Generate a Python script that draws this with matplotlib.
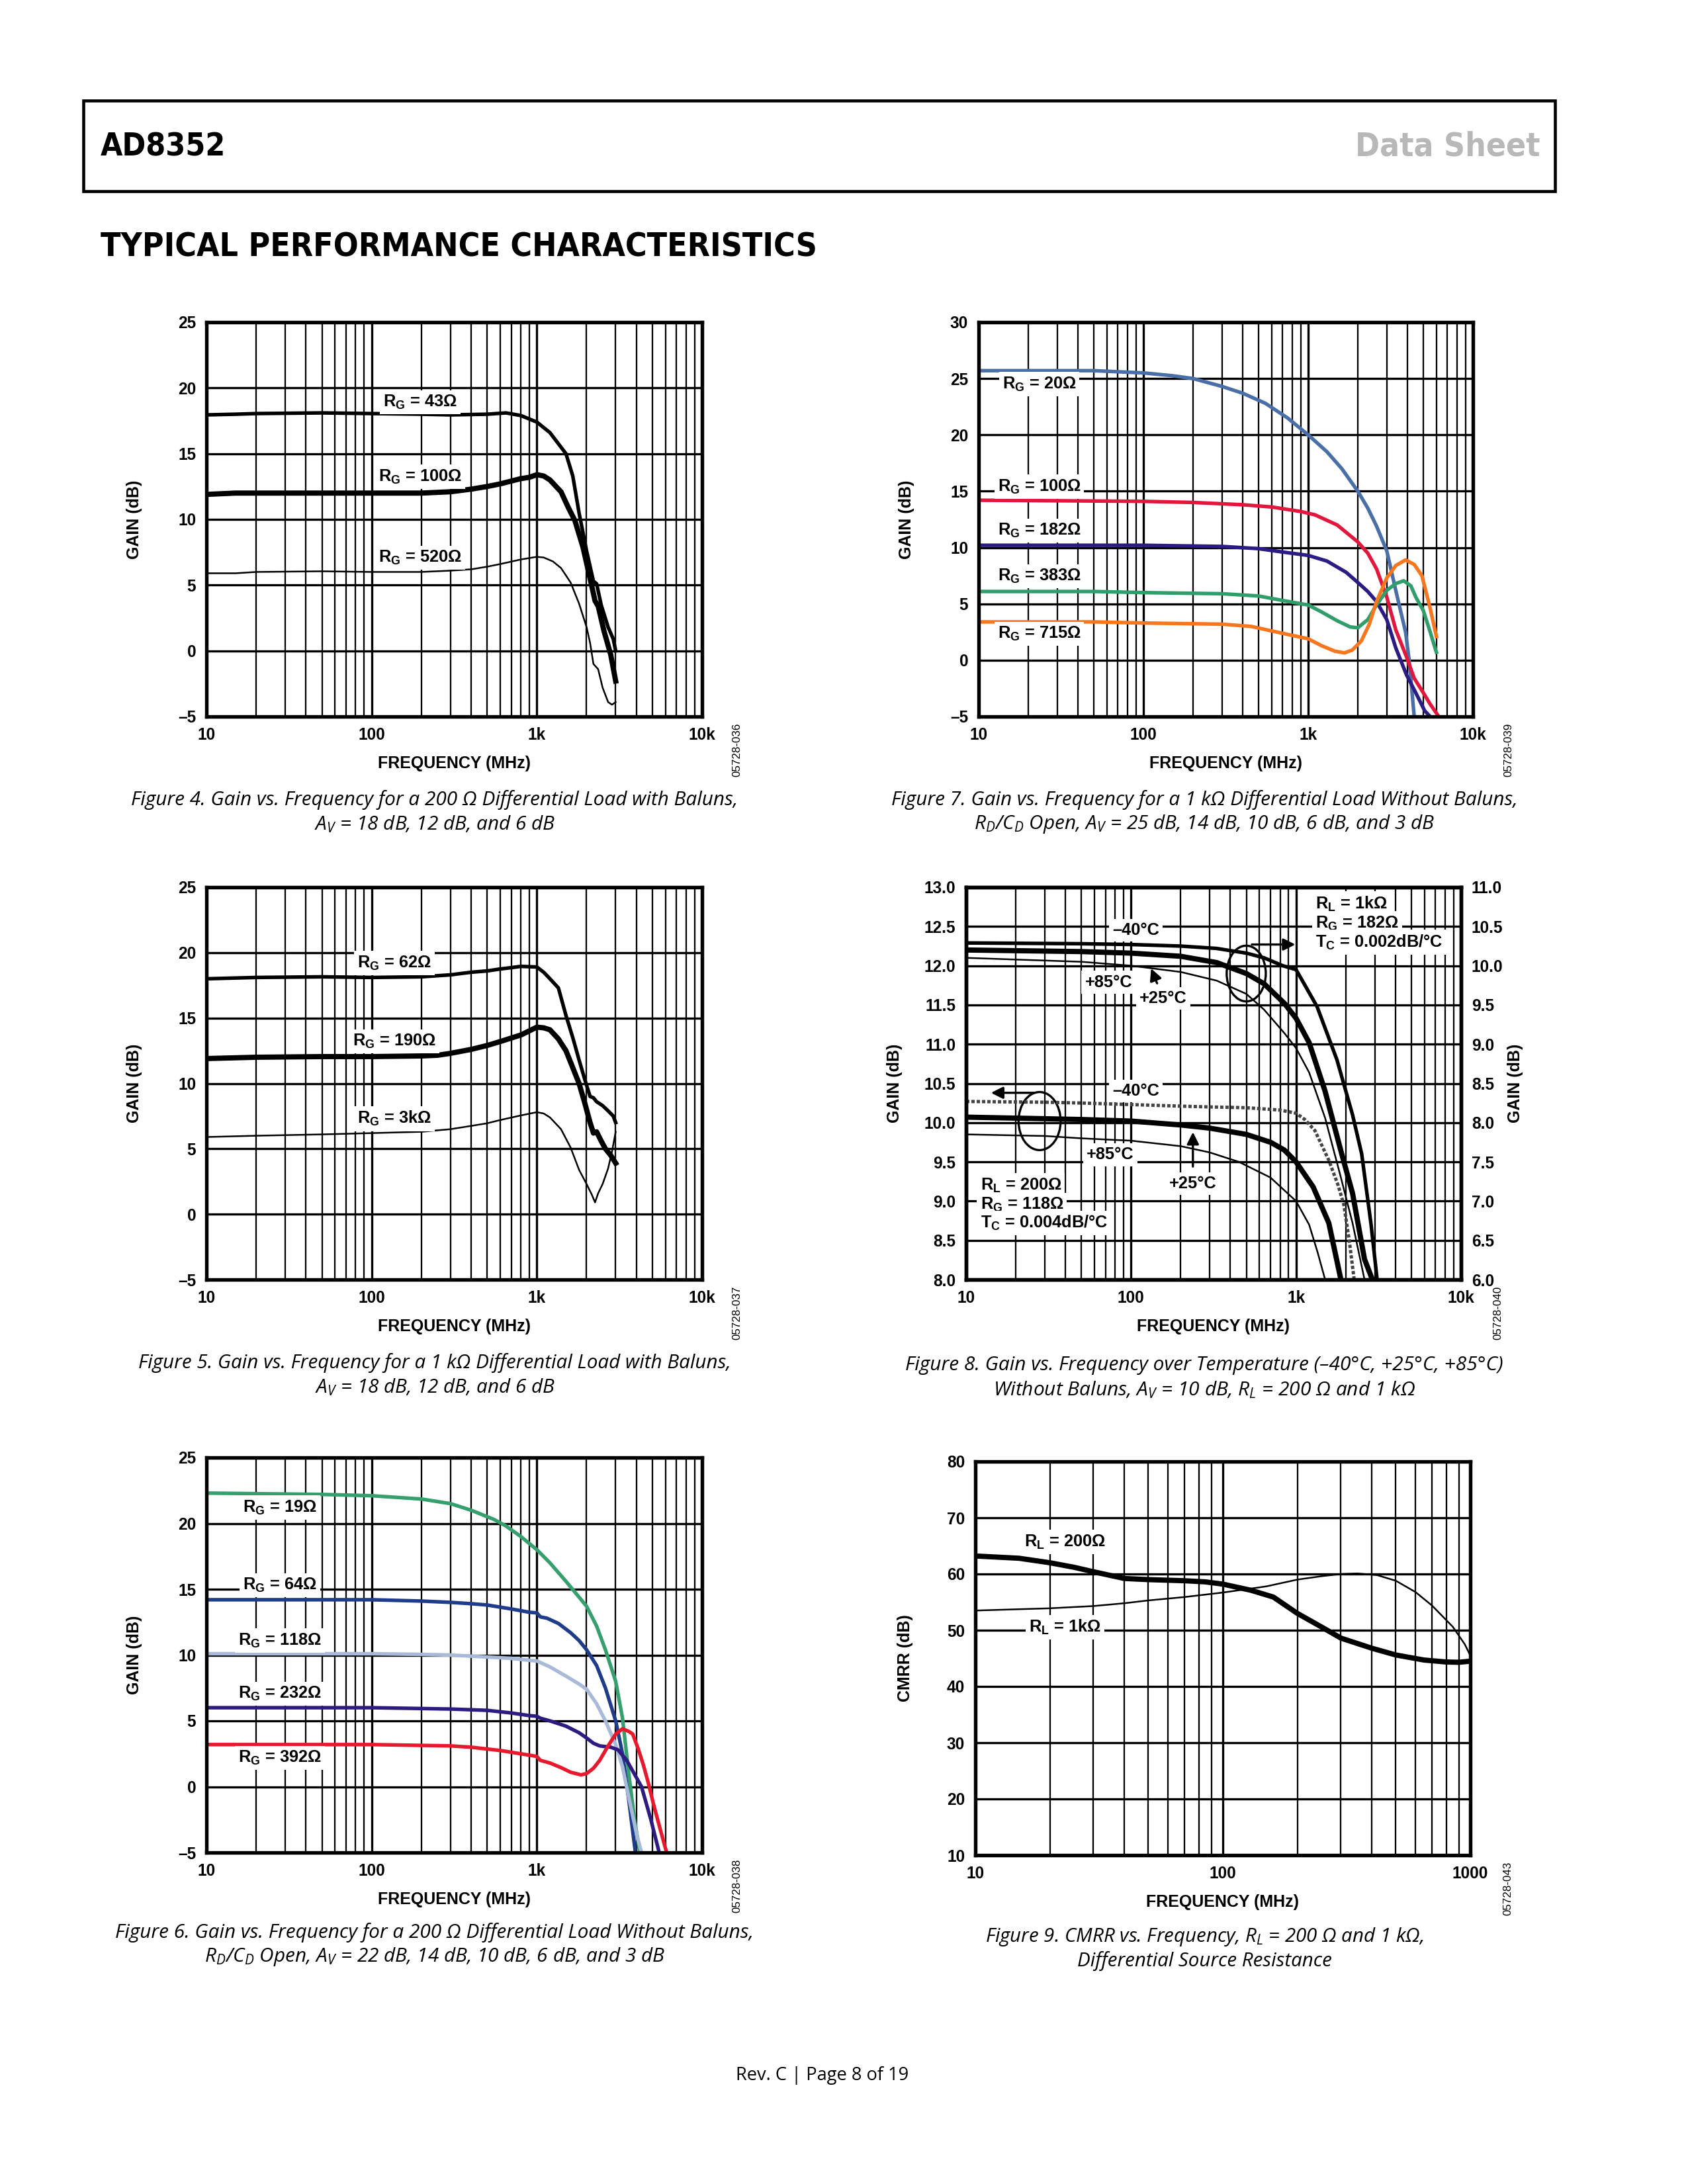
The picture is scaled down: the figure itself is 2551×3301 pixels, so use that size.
import numpy as np
import matplotlib
matplotlib.use('Agg')
import matplotlib.pyplot as plt
from matplotlib import font_manager as fm
from matplotlib.ticker import LogLocator, NullFormatter
from matplotlib.patches import Ellipse, Rectangle

# Figure 4: 200 ohm load with baluns
f4_rg43 = [10, 15, 20, 50, 100, 200, 300, 500, 650, 800, 1000, 1200, 1500, 1650, 1800, 2000, 2200, 2300, 2450, 2700, 2900, 3000]
g4_rg43 = [17.95, 18.0, 18.05, 18.1, 18.05, 18.0, 17.95, 18.0, 18.1, 17.9, 17.4, 16.6, 15.0, 13.3, 10.5, 7.6, 5.3, 5.1, 3.5, 1.8, 0.9, 0.0]
f4_rg100 = [10, 15, 20, 50, 100, 200, 300, 400, 500, 600, 800, 900, 1000, 1100, 1200, 1400, 1550, 1700, 1900, 2100, 2250, 2350, 2550, 2800, 3000]
g4_rg100 = [11.9, 12.0, 12.0, 12.0, 12.0, 12.0, 12.1, 12.3, 12.5, 12.7, 13.1, 13.2, 13.4, 13.3, 13.0, 12.1, 10.9, 9.9, 7.9, 5.5, 3.8, 3.4, 1.5, -0.3, -2.3]
f4_rg520 = [10, 15, 20, 50, 100, 200, 300, 400, 500, 600, 800, 1000, 1100, 1250, 1400, 1600, 1800, 2000, 2100, 2200, 2350, 2500, 2700, 2850, 3000]
g4_rg520 = [5.9, 5.9, 6.0, 6.05, 6.0, 6.0, 6.1, 6.2, 6.4, 6.6, 6.95, 7.15, 7.1, 6.8, 6.3, 5.2, 3.6, 1.8, 0.6, -1.0, -1.4, -2.8, -3.9, -4.1, -3.9]

# Figure 5: 1 kohm load with baluns
f5_rg62 = [10, 20, 50, 100, 200, 300, 400, 500, 600, 700, 800, 1000, 1100, 1200, 1350, 1500, 1650, 1800, 1950, 2100, 2200, 2300, 2500, 2700, 2900, 3000]
g5_rg62 = [18.0, 18.1, 18.15, 18.1, 18.15, 18.3, 18.5, 18.6, 18.75, 18.85, 18.95, 18.9, 18.5, 18.0, 17.3, 15.2, 13.5, 11.8, 10.3, 9.0, 8.9, 8.6, 8.3, 7.9, 7.5, 7.0]
f5_rg190 = [10, 20, 50, 100, 200, 250, 300, 400, 500, 600, 800, 1000, 1100, 1200, 1350, 1500, 1650, 1800, 1950, 2100, 2200, 2300, 2450, 2600, 2800, 3000]
g5_rg190 = [11.9, 12.0, 12.05, 12.05, 12.1, 12.15, 12.3, 12.6, 12.9, 13.2, 13.7, 14.3, 14.25, 14.1, 13.4, 12.5, 11.2, 10.0, 8.5, 7.0, 6.2, 6.3, 5.6, 5.0, 4.5, 3.9]
f5_rg3k = [10, 20, 50, 100, 200, 300, 400, 500, 600, 800, 1000, 1100, 1200, 1400, 1600, 1800, 2000, 2150, 2250, 2350, 2500, 2700, 2850, 3000]
g5_rg3k = [5.9, 6.0, 6.1, 6.2, 6.3, 6.5, 6.75, 6.95, 7.2, 7.55, 7.8, 7.7, 7.4, 6.5, 5.1, 3.4, 2.3, 1.5, 0.9, 1.6, 2.3, 3.5, 4.8, 6.3]

# Figure 6: 200 ohm load without baluns
f6_rg19 = [10, 50, 100, 200, 300, 400, 550, 650, 800, 1000, 1200, 1500, 1800, 2000, 2300, 2600, 3000, 3300, 3600, 3900, 4200]
g6_rg19 = [22.3, 22.2, 22.1, 21.85, 21.5, 21.0, 20.3, 19.8, 19.0, 18.0, 17.0, 15.6, 14.4, 13.7, 12.2, 10.4, 8.0, 5.2, 1.0, -2.5, -5.0]
f6_rg64 = [10, 50, 100, 200, 300, 400, 500, 700, 900, 1000, 1050, 1150, 1350, 1600, 1800, 2000, 2300, 2600, 3000, 3300, 3600, 3950]
g6_rg64 = [14.2, 14.2, 14.2, 14.1, 14.0, 13.9, 13.8, 13.5, 13.25, 13.2, 12.9, 12.8, 12.4, 11.7, 11.1, 10.4, 9.2, 7.5, 5.0, 2.5, -1.0, -5.0]
f6_rg118 = [10, 100, 200, 300, 500, 700, 900, 1000, 1200, 1500, 1800, 2000, 2300, 2600, 3000, 3300, 3600, 4000, 4300]
g6_rg118 = [10.1, 10.1, 10.05, 10.0, 9.85, 9.75, 9.6, 9.55, 9.1, 8.4, 7.8, 7.4, 6.3, 5.0, 3.2, 1.5, -0.8, -3.5, -5.0]
f6_rg232 = [10, 100, 300, 500, 700, 900, 1000, 1050, 1200, 1500, 1800, 2000, 2200, 2400, 2800, 3100, 3500, 3800, 4300, 4900, 5500]
g6_rg232 = [6.0, 6.0, 5.9, 5.8, 5.6, 5.4, 5.35, 5.2, 5.0, 4.6, 4.1, 3.7, 3.3, 3.1, 3.0, 2.8, 2.0, 1.2, 0.0, -2.5, -5.0]
f6_rg392 = [10, 100, 300, 400, 600, 800, 1000, 1050, 1200, 1400, 1600, 1850, 2000, 2200, 2400, 2700, 3000, 3300, 3600, 3800, 4100, 4400, 4700, 5100, 5600, 6100]
g6_rg392 = [3.2, 3.2, 3.1, 3.0, 2.75, 2.5, 2.3, 2.0, 1.8, 1.45, 1.1, 0.9, 1.0, 1.4, 2.0, 3.1, 4.0, 4.4, 4.2, 4.0, 2.9, 1.7, 0.4, -1.4, -3.3, -5.0]

# Figure 7: 1 kohm load without baluns
f7_rg20 = [10, 50, 100, 150, 200, 300, 400, 550, 750, 1000, 1300, 1600, 2000, 2300, 2600, 3000, 3400, 3900, 4100, 4400]
g7_rg20 = [25.7, 25.7, 25.5, 25.25, 25.0, 24.3, 23.7, 22.8, 21.5, 20.0, 18.5, 17.0, 15.0, 13.5, 11.9, 9.7, 6.2, 2.5, 0.0, -5.0]
f7_rg100 = [10, 100, 200, 400, 600, 900, 1100, 1500, 2000, 2300, 2600, 3000, 3400, 3950, 4400, 5000, 5500, 6200]
g7_rg100 = [14.2, 14.1, 14.0, 13.8, 13.6, 13.2, 12.9, 12.0, 10.5, 9.5, 8.1, 5.6, 2.7, 0.3, -1.6, -2.9, -3.9, -5.0]
f7_rg182 = [10, 100, 300, 500, 700, 1000, 1300, 1700, 2000, 2300, 2600, 3000, 3400, 3950, 4500, 5100, 5500]
g7_rg182 = [10.2, 10.2, 10.1, 9.9, 9.6, 9.3, 8.8, 7.8, 6.9, 6.1, 5.2, 3.6, 1.1, -1.3, -2.9, -4.5, -5.0]
f7_rg383 = [10, 50, 100, 300, 500, 700, 1000, 1200, 1500, 1800, 2000, 2300, 2600, 3000, 3400, 3800, 4200, 4500, 5000, 5500, 6000]
g7_rg383 = [6.1, 6.1, 6.0, 5.9, 5.7, 5.3, 4.9, 4.3, 3.5, 2.95, 2.88, 3.6, 4.9, 6.2, 6.8, 7.05, 6.6, 5.6, 4.4, 2.5, 0.7]
f7_rg715 = [10, 50, 100, 300, 450, 600, 800, 1000, 1200, 1450, 1660, 1850, 2100, 2350, 2600, 3000, 3400, 3900, 4400, 4900, 5500, 6000]
g7_rg715 = [3.4, 3.4, 3.3, 3.2, 3.0, 2.6, 2.2, 1.9, 1.3, 0.8, 0.65, 0.9, 1.7, 3.2, 5.2, 7.3, 8.4, 8.9, 8.5, 7.5, 4.6, 2.1]

# Figure 8: over temperature; RL = 200 ohm on left axis, RL = 1 kohm on right axis
f8_200_m40 = [10, 30, 50, 100, 200, 300, 500, 800, 1000, 1130, 1300, 1580, 1800, 1950, 2100, 2250]
g8_200_m40 = [10.27, 10.26, 10.25, 10.23, 10.21, 10.2, 10.19, 10.16, 10.12, 10.04, 9.9, 9.52, 9.2, 8.95, 8.5, 8.0]
f8_200_p25 = [10, 30, 50, 100, 200, 300, 500, 700, 850, 1000, 1270, 1580, 1870]
g8_200_p25 = [10.07, 10.05, 10.04, 10.02, 9.97, 9.93, 9.85, 9.75, 9.65, 9.5, 9.18, 8.72, 8.0]
f8_200_p85 = [10, 30, 50, 100, 200, 300, 450, 700, 1000, 1200, 1350, 1500]
g8_200_p85 = [9.85, 9.83, 9.8, 9.77, 9.7, 9.62, 9.5, 9.3, 9.0, 8.7, 8.35, 8.0]
f8_1k_m40 = [10, 50, 100, 200, 330, 500, 640, 830, 1000, 1340, 1770, 2200, 2500, 2850, 3100]
g8_1k_m40 = [10.29, 10.28, 10.27, 10.25, 10.22, 10.16, 10.1, 10.0, 9.95, 9.48, 8.8, 8.1, 7.6, 6.7, 6.0]
f8_1k_p25 = [10, 50, 100, 200, 330, 500, 640, 850, 1000, 1200, 1500, 1870, 2200, 2600, 2900]
g8_1k_p25 = [10.2, 10.18, 10.16, 10.12, 10.04, 9.9, 9.77, 9.52, 9.33, 9.02, 8.4, 7.64, 7.1, 6.26, 6.0]
f8_1k_p85 = [10, 50, 100, 200, 330, 500, 640, 850, 1000, 1200, 1500, 1870, 2200, 2600]
g8_1k_p85 = [10.1, 10.05, 10.0, 9.92, 9.81, 9.64, 9.44, 9.14, 8.95, 8.64, 8.06, 7.3, 6.72, 6.0]

# Figure 9: CMRR
f9_200 = [10, 15, 20, 25, 30, 40, 50, 70, 85, 100, 130, 160, 200, 250, 300, 400, 500, 650, 800, 900, 1000]
c9_200 = [63.2, 62.8, 62.0, 61.2, 60.4, 59.2, 59.0, 58.8, 58.6, 58.2, 57.1, 55.9, 53.0, 50.6, 48.6, 46.8, 45.6, 44.7, 44.35, 44.3, 44.5]
f9_1k = [10, 20, 30, 40, 50, 70, 100, 150, 200, 250, 300, 350, 420, 500, 600, 700, 850, 950, 1000]
c9_1k = [53.5, 53.9, 54.3, 54.8, 55.3, 55.9, 56.7, 57.8, 59.0, 59.6, 60.0, 60.1, 59.8, 58.8, 56.8, 54.4, 50.6, 47.5, 45.5]

gain_ticks = [-5, 0, 5, 10, 15, 20, 25]
gain_ticks7 = [-5, 0, 5, 10, 15, 20, 25, 30]
left8_ticks = [8.0, 8.5, 9.0, 9.5, 10.0, 10.5, 11.0, 11.5, 12.0, 12.5, 13.0]
right8_ticks = [6.0, 6.5, 7.0, 7.5, 8.0, 8.5, 9.0, 9.5, 10.0, 10.5, 11.0]
cmrr_ticks = [10, 20, 30, 40, 50, 60, 70, 80]
freq_ticks = [10, 100, 1000, 10000]
freq_labels = ['10', '100', '1k', '10k']

# ---------------- figure ----------------
W, H = 2551, 3301
plt.rcParams['font.family'] = ['Liberation Sans', 'DejaVu Sans']
plt.rcParams['font.weight'] = 'bold'
fig = plt.figure(figsize=(W / 300, H / 300), dpi=300)
fig.patch.set_facecolor('white')

CAP = ['Open Sans', 'DejaVu Sans']


def condensed_font(bold):
    # look for any installed condensed / narrow sans face for the page headings
    for e in fm.fontManager.ttflist:
        nm = e.name
        if any(k in nm for k in ('Serif', 'Mono', 'CJK', 'Math')):
            continue
        narrow = (str(e.stretch) in ('condensed', 'semi-condensed', 'extra-condensed', 'ultra-condensed')
                  or 'Narrow' in nm or 'Condensed' in nm)
        if not narrow or e.style != 'normal':
            continue
        w = e.weight if isinstance(e.weight, int) else fm.weight_dict.get(e.weight, 400)
        if (w >= 600) == bold:
            return fm.FontProperties(fname=e.fname)
    return None


HEAD_B = condensed_font(True)


def add_ax(l, t, r, b):
    return fig.add_axes([l / W, 1 - b / H, (r - l) / W, (b - t) / H])


def ftext(x, y, s, **kw):
    return fig.text(x / W, 1 - y / H, s, **kw)


def fit(t, width):
    r = fig.canvas.get_renderer()
    w = t.get_window_extent(r).width
    t.set_fontsize(t.get_fontsize() * width / w)


def head(x, y, s, fp, width, **kw):
    if fp is not None:
        t = ftext(x, y, s, fontproperties=fp, va='center', **kw)
        t.set_fontsize(17)
        fit(t, width)
    else:
        t = ftext(x, y, s, family=['DejaVu Sans'], va='center', fontsize=17, fontweight='bold', **kw)
        fit(t, width)
        t.set_fontsize(t.get_fontsize() * 1.12)
    return t


def dash(v):
    return str(v).replace('-', '\u2013')


def setup(ax, ylim, yticks, ylabels, xlim=(10, 10000), xticks=freq_ticks, xlabels=freq_labels):
    ax.set_xscale('log')
    ax.set_xlim(*xlim)
    ax.set_ylim(*ylim)
    ax.set_xticks(xticks)
    ax.set_xticklabels(xlabels)
    ax.xaxis.set_minor_locator(LogLocator(base=10, subs=np.arange(2, 10)))
    ax.xaxis.set_minor_formatter(NullFormatter())
    ax.set_yticks(yticks)
    ax.set_yticklabels(ylabels)
    ax.tick_params(which='both', length=0, labelsize=5.9, pad=3.8)
    ax.grid(True, which='major', color='black', lw=0.8)
    ax.grid(True, which='minor', axis='x', color='black', lw=0.55)
    ax.set_axisbelow(True)
    for sp in ax.spines.values():
        sp.set_linewidth(1.3)


def label(ax, x, y, s, **kw):
    ax.text(x, y, s, ha='center', va='center', fontsize=6.1,
            bbox=dict(fc='white', ec='none', pad=1.2), **kw)


def frame_texts(l, r, b, code_x, code, cap1, cap2, cap_x, cap_y, capw):
    ftext((l + r) / 2, b + 71, 'FREQUENCY (MHz)', ha='center', va='center', fontsize=6.0)
    ftext(code_x, b + 50, code, rotation=90, ha='center', va='center', fontsize=4.1,
          fontweight='normal')
    c1 = ftext(cap_x, cap_y, cap1, ha='center', va='center', family=CAP,
               style='italic', fontweight='normal', fontsize=6.5)
    fit(c1, capw)
    ftext(cap_x, cap_y + 37, cap2, ha='center', va='center', family=CAP,
          style='italic', fontweight='normal', fontsize=c1.get_fontsize())


def ylab(x, t, b, s='GAIN (dB)'):
    ftext(x, (t + b) / 2, s, rotation=90, ha='center', va='center', fontsize=6.0)


RG = r'$\mathregular{R_G}$'
RL = r'$\mathregular{R_L}$'
TC = r'$\mathregular{T_C}$'
AV = r'$\mathregular{A_V}$'
RDCD = r'$\mathregular{R_D/C_D}$'

# ---- header ----
fig.add_artist(Rectangle((126 / W, 1 - 289 / H), (2350 - 126) / W, (289 - 152) / H,
                         transform=fig.transFigure, fill=False, ec='black', lw=1.1))
head(152, 222, 'AD8352', HEAD_B, 190, ha='left')
head(2328, 222, 'Data Sheet', HEAD_B, 280, ha='right', color='#b8b8b8')
head(152, 374, 'TYPICAL PERFORMANCE CHARACTERISTICS', HEAD_B, 1085, ha='left')
t = ftext(1243, 3137, 'Rev. C | Page 8 of 19', ha='center', va='center', family=CAP,
          fontweight='normal', fontsize=6.5)
fit(t, 262)

# ---- Figure 4 ----
L1, R1 = 312, 1061
T, B = 487, 1083
ax = add_ax(L1, T, R1, B)
setup(ax, (-5, 25), gain_ticks, [dash(v) for v in gain_ticks])
ax.plot(f4_rg43, g4_rg43, color='black', lw=1.3)
ax.plot(f4_rg100, g4_rg100, color='black', lw=1.9)
ax.plot(f4_rg520, g4_rg520, color='black', lw=0.6)
label(ax, 197, 18.9, RG + ' = 43\u03a9')
label(ax, 197, 13.25, RG + ' = 100\u03a9')
label(ax, 197, 7.08, RG + ' = 520\u03a9')
ylab(203, T, B)
frame_texts(L1, R1, B, 1114, '05728-036',
            'Figure 4. Gain vs. Frequency for a 200 \u03a9 Differential Load with Baluns,',
            AV + ' = 18 dB, 12 dB, and 6 dB', 657, 1209, 918)

# ---- Figure 5 ----
T, B = 1341, 1934
ax = add_ax(L1, T, R1, B)
setup(ax, (-5, 25), gain_ticks, [dash(v) for v in gain_ticks])
ax.plot(f5_rg62, g5_rg62, color='black', lw=1.3)
ax.plot(f5_rg190, g5_rg190, color='black', lw=1.9)
ax.plot(f5_rg3k, g5_rg3k, color='black', lw=0.6)
label(ax, 137, 19.2, RG + ' = 62\u03a9')
label(ax, 137, 13.2, RG + ' = 190\u03a9')
label(ax, 137, 7.3, RG + ' = 3k\u03a9')
ylab(203, T, B)
frame_texts(L1, R1, B, 1114, '05728-037',
            'Figure 5. Gain vs. Frequency for a 1 k\u03a9 Differential Load with Baluns,',
            AV + ' = 18 dB, 12 dB, and 6 dB', 657, 2060, 897)

# ---- Figure 6 ----
T, B = 2203, 2800
ax = add_ax(L1, T, R1, B)
setup(ax, (-5, 25), gain_ticks, [dash(v) for v in gain_ticks])
ax.plot(f6_rg19, g6_rg19, color='#35a06e', lw=1.3)
ax.plot(f6_rg64, g6_rg64, color='#1f3c8a', lw=1.3)
ax.plot(f6_rg118, g6_rg118, color='#a9bad9', lw=1.3)
ax.plot(f6_rg232, g6_rg232, color='#2e1b82', lw=1.3)
ax.plot(f6_rg392, g6_rg392, color='#e8192c', lw=1.3)
label(ax, 27.9, 21.2, RG + ' = 19\u03a9')
label(ax, 27.9, 15.3, RG + ' = 64\u03a9')
label(ax, 27.9, 11.1, RG + ' = 118\u03a9')
label(ax, 27.9, 7.07, RG + ' = 232\u03a9')
label(ax, 27.9, 2.2, RG + ' = 392\u03a9')
ylab(203, T, B)
frame_texts(L1, R1, B, 1114, '05728-038',
            'Figure 6. Gain vs. Frequency for a 200 \u03a9 Differential Load Without Baluns,',
            RDCD + ' Open, ' + AV + ' = 22 dB, 14 dB, 10 dB, 6 dB, and 3 dB', 657, 2921, 965)

# ---- Figure 7 ----
L2, R2 = 1479, 2226
T, B = 487, 1083
ax = add_ax(L2, T, R2, B)
setup(ax, (-5, 30), gain_ticks7, [dash(v) for v in gain_ticks7])
ax.plot(f7_rg20, g7_rg20, color='#4a6fa8', lw=1.3)
ax.plot(f7_rg100, g7_rg100, color='#e3173e', lw=1.3)
ax.plot(f7_rg182, g7_rg182, color='#2b1b84', lw=1.3)
ax.plot(f7_rg383, g7_rg383, color='#2f9e6b', lw=1.3)
ax.plot(f7_rg715, g7_rg715, color='#f7761e', lw=1.3)
label(ax, 23.3, 24.5, RG + ' = 20\u03a9')
label(ax, 23.3, 15.4, RG + ' = 100\u03a9')
label(ax, 23.3, 11.5, RG + ' = 182\u03a9')
label(ax, 23.3, 7.45, RG + ' = 383\u03a9')
label(ax, 23.3, 2.35, RG + ' = 715\u03a9')
ylab(1370, T, B)
frame_texts(L2, R2, B, 2280, '05728-039',
            'Figure 7. Gain vs. Frequency for a 1 k\u03a9 Differential Load Without Baluns,',
            RDCD + ' Open, ' + AV + ' = 25 dB, 14 dB, 10 dB, 6 dB, and 3 dB', 1820, 1209, 947)

# ---- Figure 8 ----
L3, R3 = 1460, 2208
T, B = 1341, 1934
ax = add_ax(L3, T, R3, B)
setup(ax, (8, 13), left8_ticks, ['%.1f' % v for v in left8_ticks])
ax2 = ax.twinx()
ax2.set_ylim(6, 11)
ax2.set_yticks(right8_ticks)
ax2.set_yticklabels(['%.1f' % v for v in right8_ticks])
ax2.tick_params(length=0, labelsize=5.9, pad=3.8)
for sp in ax2.spines.values():
    sp.set_linewidth(1.3)
ax.plot(f8_200_m40, g8_200_m40, color='#444444', lw=1.2, ls=(0, (1, 0.6)))
ax.plot(f8_200_p25, g8_200_p25, color='black', lw=1.9)
ax.plot(f8_200_p85, g8_200_p85, color='black', lw=0.6)
ax2.plot(f8_1k_m40, g8_1k_m40, color='black', lw=1.3)
ax2.plot(f8_1k_p25, g8_1k_p25, color='black', lw=1.9)
ax2.plot(f8_1k_p85, g8_1k_p85, color='black', lw=0.6)
label(ax, 107, 12.45, '\u201340\u00b0C')
label(ax, 73, 11.79, '+85\u00b0C')
label(ax, 157, 11.58, '+25\u00b0C')
label(ax, 107, 10.4, '\u201340\u00b0C')
label(ax, 75, 9.59, '+85\u00b0C')
label(ax, 237, 9.22, '+25\u00b0C')
for y, s in [(12.79, RL + ' = 1k\u03a9'), (12.54, RG + ' = 182\u03a9'), (12.30, TC + ' = 0.002dB/\u00b0C')]:
    ax.text(1315, y, s, ha='left', va='center', fontsize=6.1,
            bbox=dict(fc='white', ec='none', pad=1.2))
for y, s in [(9.2, RL + ' = 200\u03a9'), (8.95, RG + ' = 118\u03a9'), (8.72, TC + ' = 0.004dB/\u00b0C')]:
    ax.text(12.2, y, s, ha='left', va='center', fontsize=6.1,
            bbox=dict(fc='white', ec='none', pad=1.2))
arrow = dict(arrowstyle='-|>', color='black', lw=0.8, mutation_scale=9)
ax.annotate('', xy=(128.5, 12.03), xytext=(148, 11.71), arrowprops=arrow)
ax.annotate('', xy=(237, 9.95), xytext=(237, 9.37), arrowprops=arrow)
ax.annotate('', xy=(1070, 12.27), xytext=(500, 12.27), arrowprops=arrow)
ax.annotate('', xy=(13.1, 10.38), xytext=(28, 10.38), arrowprops=arrow)
for fc, vc, w, h in [(499, 11.9, 0.079, 0.142), (27.9, 10.02, 0.085, 0.148)]:
    cx, cy = ax.transAxes.inverted().transform(ax.transData.transform((fc, vc)))
    ax.add_patch(Ellipse((cx, cy), w, h, transform=ax.transAxes, fill=False, ec='black', lw=0.8))
ylab(1352, T, B)
ylab(2290, T, B)
frame_texts(L3, R3, B, 2264, '05728-040',
            'Figure 8. Gain vs. Frequency over Temperature (\u201340\u00b0C, +25\u00b0C, +85\u00b0C)',
            'Without Baluns, ' + AV + ' = 10 dB, ' + RL + ' = 200 \u03a9 and 1 k\u03a9', 1820, 2064, 907)

# ---- Figure 9 ----
L4, R4 = 1474, 2222
T, B = 2209, 2804
ax = add_ax(L4, T, R4, B)
setup(ax, (10, 80), cmrr_ticks, [str(v) for v in cmrr_ticks], xlim=(10, 1000),
      xticks=[10, 100, 1000], xlabels=['10', '100', '1000'])
ax.plot(f9_200, c9_200, color='black', lw=1.9)
ax.plot(f9_1k, c9_1k, color='black', lw=0.6)
label(ax, 23, 65.7, RL + ' = 200\u03a9')
label(ax, 23, 50.5, RL + ' = 1k\u03a9')
ylab(1368, T, B, 'CMRR (dB)')
frame_texts(L4, R4, B, 2279, '05728-043',
            'Figure 9. CMRR vs. Frequency, ' + RL + ' = 200 \u03a9 and 1 k\u03a9,',
            'Differential Source Resistance', 1820, 2927, 666)

fig.savefig('out.png', dpi=300)
plt.close(fig)
